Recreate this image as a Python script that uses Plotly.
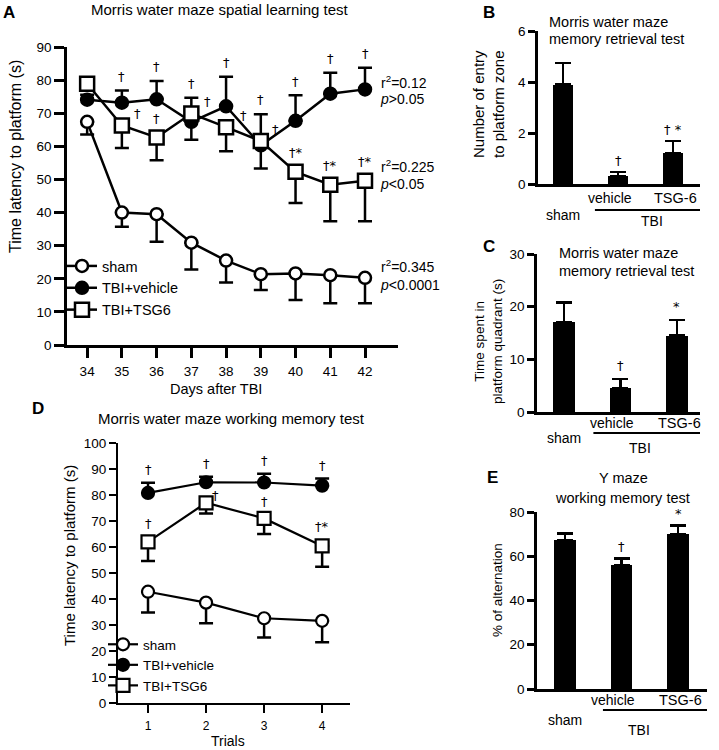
import plotly.graph_objects as go

# ---------------- data ----------------
days = [34, 35, 36, 37, 38, 39, 40, 41, 42]
a_sham = [67.4, 40.0, 39.5, 30.9, 25.5, 21.4, 21.6, 21.1, 20.3]
a_sham_err = [3.8, 4.3, 8.3, 8.1, 6.6, 4.8, 8.0, 8.5, 7.7]
a_veh = [74.1, 73.2, 74.2, 67.4, 72.1, 60.3, 67.7, 75.9, 77.2]
a_veh_err = [1.5, 3.7, 5.5, 7.3, 8.9, 9.4, 7.7, 6.3, 6.5]
a_tsg = [78.9, 66.3, 62.7, 69.9, 65.8, 61.6, 52.3, 48.4, 49.6]
a_tsg_err = [1.5, 6.8, 6.9, 7.9, 7.3, 8.3, 9.4, 11.0, 12.2]
a_veh_sig = ["", "†", "†", "†", "†", "†", "†", "†", "†"]
a_tsg_sig = ["", "†", "†", "†", "†", "†", "†*", "†*", "†*"]
a_stats = [("r<sup>2</sup>=0.12", "<i>p</i>&gt;0.05"),
           ("r<sup>2</sup>=0.225", "<i>p</i>&lt;0.05"),
           ("r<sup>2</sup>=0.345", "<i>p</i>&lt;0.0001")]

trials = [1, 2, 3, 4]
d_sham = [42.8, 38.6, 32.6, 31.6]
d_sham_err = [8.0, 7.9, 7.4, 8.2]
d_veh = [80.8, 84.9, 84.8, 83.6]
d_veh_err = [3.9, 2.1, 3.4, 2.7]
d_tsg = [62.0, 77.0, 71.0, 60.4]
d_tsg_err = [7.4, 4.1, 6.0, 8.0]
d_veh_sig = ["†", "†", "†", "†"]
d_tsg_sig = ["†", "†", "†", "†*"]

groups = ["sham", "vehicle", "TSG-6"]
group_label = "TBI"
b_vals = [3.9, 0.3, 1.21]
b_err = [0.85, 0.17, 0.48]
b_sig = ["", "†", "† *"]
c_vals = [17.0, 4.5, 14.5]
c_err = [3.8, 1.8, 3.0]
c_sig = ["", "†", "*"]
e_vals = [67.2, 55.9, 69.9]
e_err = [3.0, 3.0, 4.1]
e_sig = ["", "†", "*"]

legend_names = ["sham", "TBI+vehicle", "TBI+TSG6"]

# ---------------- styling ----------------
W, H = 719, 750
FONT = "Liberation Sans, Arial, Helvetica, sans-serif"
SIGFONT = "DejaVu Sans, Liberation Sans, sans-serif"
BLACK = "black"


def px(x):
    return x / W


def py(y):
    return 1 - y / H


fig = go.Figure()


def err_dict(vals, up=True, width=7, thick=2.5):
    zeros = [0] * len(vals)
    return dict(type="data", symmetric=False,
                array=vals if up else zeros,
                arrayminus=zeros if up else vals,
                color=BLACK, thickness=thick, width=width)


def line_trace(x, y, err, up, symbol, fill, name, xa, ya, legend, size, lw):
    return go.Scatter(
        x=x, y=y, mode="lines+markers", name=name,
        xaxis=xa, yaxis=ya, legend=legend, legendgroup=legend + name,
        cliponaxis=False,
        line=dict(color=BLACK, width=lw),
        marker=dict(symbol=symbol, size=size, color=fill,
                    line=dict(color=BLACK, width=lw)),
        error_y=err_dict(err, up=up))


# Panel A
fig.add_trace(line_trace(days, a_sham, a_sham_err, False, "circle", "white",
                         legend_names[0], "x", "y", "legend", 12, 2.5))
fig.add_trace(line_trace(days, a_veh, a_veh_err, True, "circle", BLACK,
                         legend_names[1], "x", "y", "legend", 12, 2.5))
fig.add_trace(line_trace(days, a_tsg, a_tsg_err, False, "square", "white",
                         legend_names[2], "x", "y", "legend", 14, 2.5))

# Panel D
fig.add_trace(line_trace(trials, d_sham, d_sham_err, False, "circle", "white",
                         legend_names[0], "x4", "y4", "legend2", 12, 2.2))
fig.add_trace(line_trace(trials, d_veh, d_veh_err, True, "circle", BLACK,
                         legend_names[1], "x4", "y4", "legend2", 12, 2.2))
fig.add_trace(line_trace(trials, d_tsg, d_tsg_err, False, "square", "white",
                         legend_names[2], "x4", "y4", "legend2", 13, 2.2))

# Bars B, C, E
for vals, err, xa, ya in [(b_vals, b_err, "x2", "y2"),
                          (c_vals, c_err, "x3", "y3"),
                          (e_vals, e_err, "x5", "y5")]:
    fig.add_trace(go.Bar(x=list(range(len(groups))), y=vals, width=0.38,
                         marker=dict(color=BLACK, line=dict(width=0)),
                         xaxis=xa, yaxis=ya, showlegend=False,
                         error_y=err_dict(err, up=True, width=8)))

annotations = []


def txt(text, x, y, size=14, xref="paper", yref="paper", xanchor="center",
        yanchor="middle", angle=0, bold=False, family=FONT):
    annotations.append(dict(
        text=f"<b>{text}</b>" if bold else text, x=x, y=y, xref=xref, yref=yref,
        xanchor=xanchor, yanchor=yanchor, textangle=angle, showarrow=False,
        font=dict(family=family, size=size, color=BLACK)))


# significance marks A
a_tsg_dx = [0, 0.28, 0, 0.3, 0.33, 0.27, 0, 0, 0]
for i, d in enumerate(days):
    if a_veh_sig[i]:
        txt(a_veh_sig[i], d, a_veh[i] + a_veh_err[i] + 4.3, 13, "x", "y", family=SIGFONT)
    if a_tsg_sig[i]:
        dx = a_tsg_dx[i]
        off = 3.5 if dx else 5.8
        txt(a_tsg_sig[i], d + dx, a_tsg[i] + off, 13, "x", "y",
            xanchor="left" if dx else "center", family=SIGFONT)
# significance marks D
d_tsg_dx = [0, 0.17, 0, 0]
d_tsg_off = [7.0, 3.0, 6.4, 7.4]
for i, t in enumerate(trials):
    txt(d_veh_sig[i], t, d_veh[i] + d_veh_err[i] + 5.0, 13, "x4", "y4", family=SIGFONT)
    txt(d_tsg_sig[i], t + d_tsg_dx[i], d_tsg[i] + d_tsg_off[i], 13, "x4", "y4",
        family=SIGFONT)
# significance marks bars
for sig, vals, err, xr, yr, off in [(b_sig, b_vals, b_err, "x2", "y2", 0.45),
                                     (c_sig, c_vals, c_err, "x3", "y3", 2.6),
                                     (e_sig, e_vals, e_err, "x5", "y5", 5.5)]:
    for i in range(len(groups)):
        if sig[i]:
            txt(sig[i], i, vals[i] + err[i] + off, 13, xr, yr, family=SIGFONT)

# stats text A
stat_rows = [(82, 99), (166, 184), (266, 285)]
for (r2, p), (y1, y2) in zip(a_stats, stat_rows):
    txt(r2, px(379), py(y1), 14, xanchor="left")
    txt(p, px(378), py(y2), 14, xanchor="left")

# titles
txt("Morris water maze spatial learning test", px(220), py(10), 15)
txt("Morris water maze working memory test", px(231), py(418), 15)
txt("Morris water maze", px(547), py(22), 14.5, xanchor="left")
txt("memory retrieval test", px(547), py(39), 14.5, xanchor="left")
txt("Morris water maze", px(557), py(253), 14.5, xanchor="left")
txt("memory retrieval test", px(557), py(271), 14.5, xanchor="left")
txt("Y maze", px(623), py(478), 14.5)
txt("working memory test", px(622), py(498), 14.5)

# panel letters
for L, x, y in [("A", 9, 13), ("B", 489, 12), ("C", 489, 247),
                ("D", 38, 408), ("E", 492, 477)]:
    txt(L, px(x), py(y), 17, bold=True)

# axis titles
txt("Time latency to platform (s)", px(15), py(157), 16, angle=-90)
txt("Days after TBI", px(216), py(389), 14.5)
txt("Time latency to platform (s)", px(69), py(556), 15, angle=-90)
txt("Trials", px(228), py(741), 14)
txt("Number of entry<br>to platform zone", px(488), py(104), 15, angle=-90)
txt("Time spent in<br>platform quadrant (s)", px(488), py(341), 13.5, angle=-90)
txt("% of alternation", px(497), py(590), 13.5, angle=-90)

# bar category labels
shapes = []
for xr, y_sub, y_sham, y_line, y_tbi, lx0, lx1, tbi_x in [
        ("x2", 198, 215, 210, 221, 0.58, 2.49, 1.62),
        ("x3", 423, 438, 433, 448, 0.52, 2.41, 1.35),
        ("x5", 700, 720, 710, 730, 0.67, 2.51, 1.3)]:
    txt(groups[0], 0, py(y_sham), 14, xref=xr)
    txt(groups[1], 0.85, py(y_sub), 14, xref=xr)
    txt(groups[2], 2.05, py(y_sub), 14.5, xref=xr)
    txt(group_label, tbi_x, py(y_tbi), 14, xref=xr)
    shapes.append(dict(type="line", xref=xr, yref="paper", x0=lx0, x1=lx1,
                       y0=py(y_line), y1=py(y_line),
                       line=dict(color=BLACK, width=2.2)))

axis_base = dict(showline=True, linecolor=BLACK, linewidth=2.5, ticks="outside",
                 tickcolor=BLACK, tickwidth=2.5, showgrid=False, zeroline=False,
                 automargin=False,
                 tickfont=dict(family=FONT, size=13.5, color=BLACK))
bar_x = dict(axis_base, ticks="", showticklabels=False)

fig.update_layout(
    template="none",
    width=W, height=H, margin=dict(l=0, r=0, t=0, b=0, pad=0), autosize=False,
    paper_bgcolor="white", plot_bgcolor="rgba(0,0,0,0)",
    font=dict(family=FONT, color=BLACK),
    xaxis=dict(axis_base, domain=[px(67), px(398)], range=[33.42, 42.95],
               tickvals=days, ticklen=10, anchor="y", ticklabelstandoff=2),
    yaxis=dict(axis_base, domain=[py(345), py(47)], range=[0, 90],
               tickvals=list(range(0, 91, 10)), ticklen=10, anchor="x"),
    xaxis4=dict(axis_base, domain=[px(118), px(350)], range=[0.483, 4.48],
                tickvals=trials, ticklen=8, anchor="y4", ticklabelstandoff=2,
                tickfont=dict(family=FONT, size=12, color=BLACK), linewidth=2.2, tickwidth=2.2),
    yaxis4=dict(axis_base, domain=[py(703), py(443)], range=[0, 100],
                tickvals=list(range(0, 101, 10)), ticklen=7, anchor="x4",
                linewidth=2.2, tickwidth=2.2),
    xaxis2=dict(bar_x, domain=[px(538), px(700)], range=[-0.4545, 2.49], anchor="y2"),
    yaxis2=dict(axis_base, domain=[py(184), py(31)], range=[0, 6],
                tickvals=[0, 2, 4, 6], ticklen=7, anchor="x2"),
    xaxis3=dict(bar_x, domain=[px(537), px(700)], range=[-0.48, 2.41], anchor="y3"),
    yaxis3=dict(axis_base, domain=[py(412), py(254)], range=[0, 30],
                tickvals=[0, 10, 20, 30], ticklen=7, anchor="x3"),
    xaxis5=dict(bar_x, domain=[px(537), px(707)], range=[-0.496, 2.51], anchor="y5"),
    yaxis5=dict(axis_base, domain=[py(689), py(512)], range=[0, 80],
                tickvals=[0, 20, 40, 60, 80], ticklen=7, anchor="x5"),
    legend=dict(x=px(62), y=py(250), xanchor="left", yanchor="top",
                bgcolor="rgba(0,0,0,0)", tracegroupgap=0, traceorder="grouped",
                font=dict(family=FONT, size=14.5, color=BLACK)),
    legend2=dict(x=px(103), y=py(629), xanchor="left", yanchor="top",
                 bgcolor="rgba(0,0,0,0)", tracegroupgap=0, traceorder="grouped",
                 font=dict(family=FONT, size=13.5, color=BLACK)),
    annotations=annotations, shapes=shapes, bargap=0,
)

fig.write_html("out.html",
               config={"displayModeBar": False},
               post_script="document.body.style.margin='0px';"
                           "document.body.style.overflow='hidden';")
